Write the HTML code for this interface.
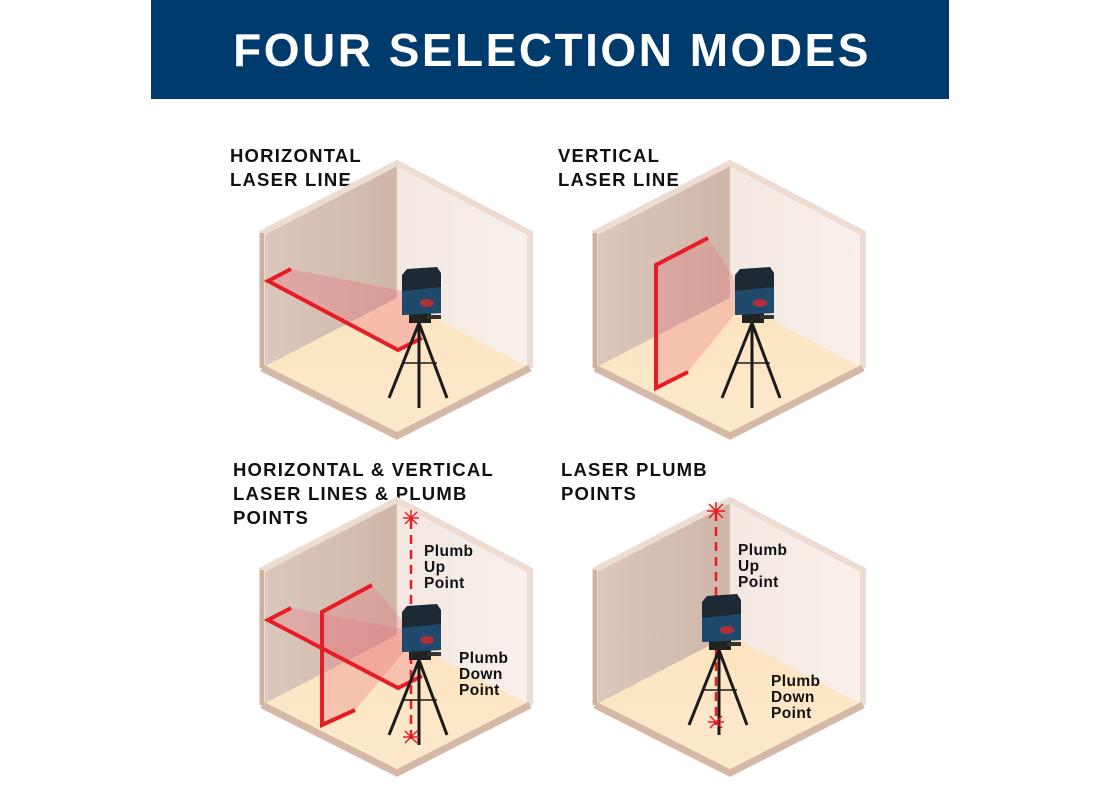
<!DOCTYPE html>
<html><head><style>
html,body{margin:0;padding:0;background:#fff;}
svg{display:block;}
text{font-family:"Liberation Sans",sans-serif;font-weight:bold;}
</style></head><body>
<svg width="1100" height="800" viewBox="0 0 1100 800" xmlns="http://www.w3.org/2000/svg">
<defs>
<linearGradient id="lw" x1="0" y1="0" x2="1" y2="0"><stop offset="0" stop-color="#dcc8be"/><stop offset="1" stop-color="#cfb5a8"/></linearGradient>
<linearGradient id="rw" x1="0" y1="0" x2="1" y2="0"><stop offset="0" stop-color="#f3e8e1"/><stop offset="1" stop-color="#f8f0eb"/></linearGradient>
<linearGradient id="fl" x1="0" y1="0" x2="0" y2="1"><stop offset="0" stop-color="#fde4c0"/><stop offset="1" stop-color="#fbe9cc"/></linearGradient>
<g id="cube">
<polygon points="-135,70 0,0 0,135 -135,205" fill="url(#lw)"/>
<polygon points="0,0 133,70 133,205 0,135" fill="url(#rw)"/>
<polygon points="-135,205 0,135 133,205 0,273" fill="url(#fl)"/>
<polyline points="-135,205 -135,70 0,0 133,70 133,205" fill="none" stroke="#ecdcd1" stroke-width="6"/>
<polyline points="-135,205 0,273 133,205" fill="none" stroke="#d6b8a6" stroke-width="7"/>
<line x1="-135" y1="205" x2="-135" y2="70" stroke="#cfb09f" stroke-width="4"/>
<line x1="0" y1="0" x2="0" y2="135" stroke="#e8d8cc" stroke-width="1"/>
</g>
<g id="dev">
<g stroke="#1b1b1b" stroke-width="3" fill="none">
<line x1="22" y1="160" x2="-8" y2="235"/><line x1="22" y1="160" x2="50" y2="235"/><line x1="22" y1="160" x2="22" y2="245"/>
<line x1="5" y1="200" x2="40" y2="200" stroke-width="1.5"/>
</g>
<rect x="12" y="150" width="22" height="10" fill="#222"/>
<rect x="30" y="152" width="14" height="4" fill="#333"/>
<path d="M5,112 L10,106 L40,104 L44,110 L44,150 L5,152 Z" fill="#1d2a36"/>
<path d="M5,128 L44,124 L44,150 L5,152 Z" fill="#204a6c"/>
<ellipse cx="30" cy="140" rx="7" ry="4" fill="#b0303a"/>
</g>
</defs>

<rect x="151" y="0" width="798" height="99" fill="#003b6e"/>
<text x="552" y="66" text-anchor="middle" fill="#fff" font-size="46" letter-spacing="2.5">FOUR SELECTION MODES</text>

<g font-size="18.5" fill="#111" letter-spacing="1.2">
<text x="230" y="162">HORIZONTAL</text><text x="230" y="186">LASER LINE</text>
<text x="558" y="162">VERTICAL</text><text x="558" y="186">LASER LINE</text>
<text x="233" y="476">HORIZONTAL &amp; VERTICAL</text><text x="233" y="500">LASER LINES &amp;  PLUMB</text><text x="233" y="524">POINTS</text>
<text x="561" y="476">LASER PLUMB</text><text x="561" y="500">POINTS</text>
</g>

<!-- TL -->
<g transform="translate(397,163)"><use href="#cube"/></g>
<polygon points="268,281 291,269 408,292 418,300 422,338 398,350" fill="#e8707a" opacity="0.35"/>
<polyline points="291,269 268,281 398,350 422,338" fill="none" stroke="#e81c24" stroke-width="4"/>
<g transform="translate(397,163)"><use href="#dev"/></g>

<!-- TR -->
<g transform="translate(730,163)"><use href="#cube"/></g>
<polygon points="656,265 708,238 742,290 742,305 688,372 656,388" fill="#e8707a" opacity="0.3"/>
<polyline points="708,238 656,265 656,388 688,372" fill="none" stroke="#e81c24" stroke-width="4"/>
<g transform="translate(730,163)"><use href="#dev"/></g>

<!-- BL -->
<g transform="translate(397,500)"><use href="#cube"/></g>
<polygon points="268,620 291,608 408,630 418,640 422,675 398,688" fill="#e8707a" opacity="0.3"/>
<polygon points="322,612 372,585 410,630 410,645 355,710 322,725" fill="#e8707a" opacity="0.3"/>
<polyline points="291,608 268,620 398,688 422,676" fill="none" stroke="#e81c24" stroke-width="4"/>
<polyline points="372,585 322,612 322,725 355,710" fill="none" stroke="#e81c24" stroke-width="4"/>
<line x1="411" y1="520" x2="411" y2="740" stroke="#e81c24" stroke-width="2.5" stroke-dasharray="9,6"/>
<g transform="translate(397,500)"><use href="#dev"/></g>
<g stroke="#e81c24" stroke-width="1.5"><line x1="403" y1="518" x2="419" y2="518"/><line x1="411" y1="510" x2="411" y2="526"/><line x1="405" y1="512" x2="417" y2="524"/><line x1="417" y1="512" x2="405" y2="524"/>
<line x1="403" y1="737" x2="419" y2="737"/><line x1="405" y1="731" x2="417" y2="743"/><line x1="417" y1="731" x2="405" y2="743"/></g>

<!-- BR -->
<g transform="translate(730,500)"><use href="#cube"/></g>
<line x1="716" y1="512" x2="716" y2="725" stroke="#e81c24" stroke-width="2.5" stroke-dasharray="9,6"/>
<g transform="translate(697,490)"><use href="#dev"/></g>
<g stroke="#e81c24" stroke-width="1.5"><line x1="707" y1="511" x2="725" y2="511"/><line x1="716" y1="502" x2="716" y2="520"/><line x1="709" y1="504" x2="723" y2="518"/><line x1="723" y1="504" x2="709" y2="518"/>
<line x1="708" y1="722" x2="724" y2="722"/><line x1="710" y1="716" x2="722" y2="728"/><line x1="722" y1="716" x2="710" y2="728"/></g>

<g font-size="15.5" fill="#111" letter-spacing="0.4">
<text x="424" y="556">Plumb</text><text x="424" y="572">Up</text><text x="424" y="588">Point</text>
<text x="459" y="663">Plumb</text><text x="459" y="679">Down</text><text x="459" y="695">Point</text>
<text x="738" y="555">Plumb</text><text x="738" y="571">Up</text><text x="738" y="587">Point</text>
<text x="771" y="686">Plumb</text><text x="771" y="702">Down</text><text x="771" y="718">Point</text>
</g>
</svg>
</body></html>
